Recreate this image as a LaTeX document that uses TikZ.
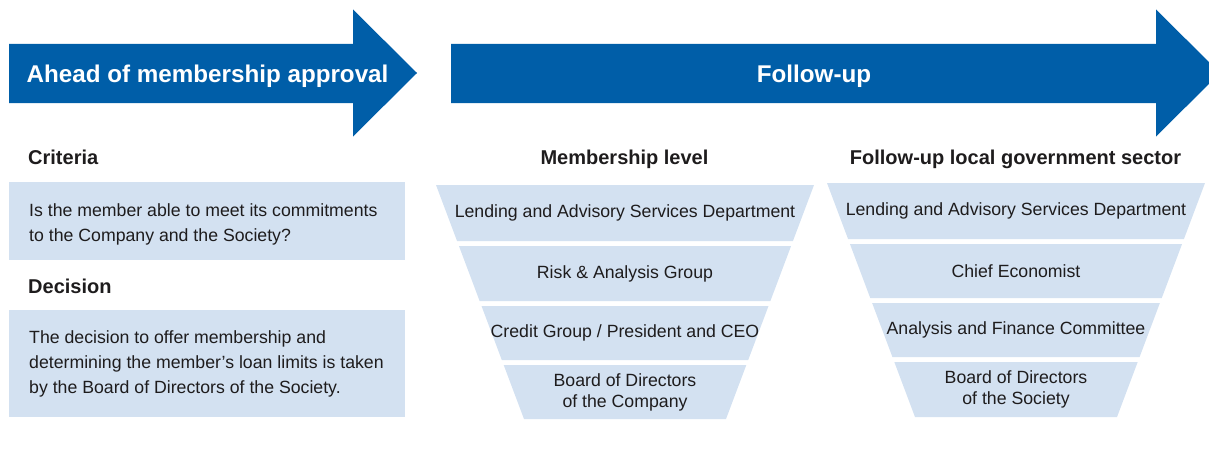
\documentclass[tikz,border=0pt]{standalone}
\usepackage{fontspec}
\setmainfont{Liberation Sans}
\definecolor{arrowblue}{RGB}{0,94,168}
\definecolor{paleblue}{RGB}{211,225,241}
\definecolor{ink}{RGB}{30,28,29}
\tikzset{
  bigarrow/.style={fill=arrowblue, draw=none},
  arrowlabel/.style={text=white, font=\fontsize{24.2}{28}\selectfont\bfseries, inner sep=0pt},
  heading/.style={text=ink, font=\fontsize{20}{24}\selectfont\bfseries, inner sep=0pt},
  infobox/.style={fill=paleblue, draw=none, inner sep=0pt},
  infotext/.style={text=ink, font=\fontsize{17.7}{25}\selectfont, align=left, inner sep=0pt},
  tierfill/.style={fill=paleblue, draw=none},
  tiertext/.style={text=ink, font=\fontsize{17.7}{21}\selectfont, align=center, inner sep=0pt},
}
% one band of a funnel: name, centre x, funnel top y, band top y, band bottom y, label
\newcommand{\tier}[6]{%
  \pgfmathsetmacro{\hwa}{189-0.376*(#4-#3)}%
  \pgfmathsetmacro{\hwb}{189-0.376*(#5-#3)}%
  \fill[tierfill] (#2-\hwa,#4) -- (#2+\hwa,#4) -- (#2+\hwb,#5) -- (#2-\hwb,#5) -- cycle;
  \node[tiertext] (#1) at (#2,{(#4+#5)/2}) {#6};
}
\begin{document}
\begin{tikzpicture}[x=1pt,y=-1pt]
\useasboundingbox (0,0) rectangle (1209,452);
\clip (0,0) rectangle (1209,452);

% phase arrows
\fill[bigarrow] (9,44) -- (353,44) -- (353,9.5) -- (417,73) -- (353,136.5) -- (353,103) -- (9,103) -- cycle;
\fill[bigarrow] (451,44) -- (1156,44) -- (1156,9.5) -- (1220,73) -- (1156,136.5) -- (1156,103) -- (451,103) -- cycle;
\node[arrowlabel, anchor=base west] (ahead) at (26.5,82.5) {Ahead of membership approval};
\node[arrowlabel, anchor=base] (follow) at (814,82.5) {Follow-up};

% left column: criteria and decision (multi-line text is anchored on its last baseline)
\node[heading, anchor=base west] (crit) at (28,164) {Criteria};
\fill[infobox] (9,182) rectangle (405,260);
\node[infotext, anchor=base west] (critq) at (29,241) {Is the member able to meet its commitments\\to the Company and the Society?};
\node[heading, anchor=base west] (dec) at (28,293) {Decision};
\fill[infobox] (9,310) rectangle (405,417);
\node[infotext, anchor=base west] (dect) at (29,393.5) {The decision to offer membership and\\determining the member’s loan limits is taken\\by the Board of Directors of the Society.};

% middle funnel
\node[heading, anchor=base] (mlevel) at (624.5,164) {Membership level};
\tier{m1}{625}{185}{185}{241}{Lending and Advisory Services Department}
\tier{m2}{625}{185}{246}{301}{Risk \& Analysis Group}
\tier{m3}{625}{185}{306}{360}{Credit Group / President and CEO}
\tier{m4}{625}{185}{365}{419}{Board of Directors\\of the Company}

% right funnel
\node[heading, anchor=base] (flevel) at (1015.5,164) {Follow-up local government sector};
\tier{r1}{1016}{183}{183}{239}{Lending and Advisory Services Department}
\tier{r2}{1016}{183}{244}{298}{Chief Economist}
\tier{r3}{1016}{183}{303}{357}{Analysis and Finance Committee}
\tier{r4}{1016}{183}{362}{417}{Board of Directors\\of the Society}
\end{tikzpicture}
\end{document}
